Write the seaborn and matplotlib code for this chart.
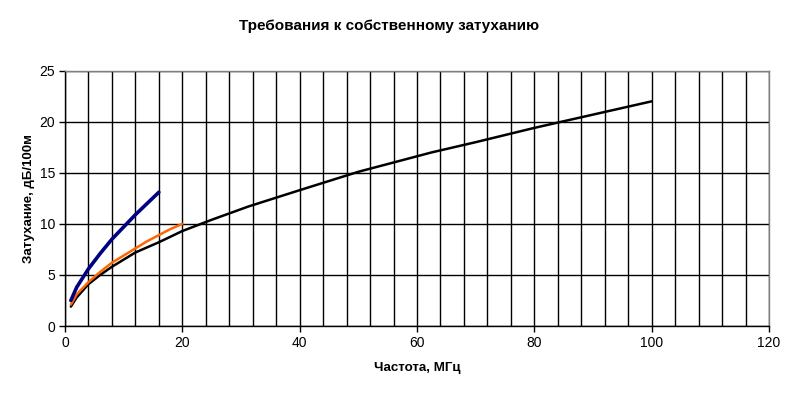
import numpy as np
import pandas as pd
import matplotlib
matplotlib.use("Agg")
import matplotlib.pyplot as plt
import seaborn as sns
from matplotlib.ticker import MultipleLocator

# Data (attenuation, dB/100m vs frequency, MHz)
freq_cat3 = [1, 2, 4, 6, 8, 10, 12, 14, 16]
att_cat3 = [2.5, 3.8, 5.6, 7.1, 8.5, 9.7, 10.9, 12.0, 13.1]

freq_cat4 = [1, 2, 4, 6, 8, 10, 12, 14, 16, 18, 20]
att_cat4 = [2.1, 3.1, 4.3, 5.3, 6.2, 6.9, 7.6, 8.3, 8.9, 9.5, 10.0]

freq_cat5 = [1, 2, 4, 6, 8, 10, 12, 16, 20, 25, 31.25, 40, 50, 62.5, 70, 80, 90, 100]
att_cat5 = [1.9, 2.8, 4.1, 5.0, 5.8, 6.5, 7.2, 8.2, 9.3, 10.4, 11.7, 13.3, 15.1, 17.0, 18.0, 19.4, 20.7, 22.0]

title = "Требования к собственному затуханию"
xlabel = "Частота, МГц"
ylabel = "Затухание, дБ/100м"

sns.set_theme(style="white")
plt.rcParams['font.family'] = ['Liberation Sans', 'DejaVu Sans']

fig = plt.figure(figsize=(7.96, 3.96), dpi=100)
ax = fig.add_axes([65/796, 70/396, (769-65)/796, (326-70.7)/396])

df5 = pd.DataFrame({"f": freq_cat5, "a": att_cat5})
df4 = pd.DataFrame({"f": freq_cat4, "a": att_cat4})
df3 = pd.DataFrame({"f": freq_cat3, "a": att_cat3})

sns.lineplot(data=df5, x="f", y="a", ax=ax, color="black", linewidth=1.8, zorder=3)
sns.lineplot(data=df4, x="f", y="a", ax=ax, color="#FF6600", linewidth=1.8, zorder=4)
sns.lineplot(data=df3, x="f", y="a", ax=ax, color="#000080", linewidth=2.6, zorder=5)

ax.set_xlim(0, 120)
ax.set_ylim(0, 25)
ax.xaxis.set_major_locator(MultipleLocator(20))
ax.xaxis.set_minor_locator(MultipleLocator(4))
ax.yaxis.set_major_locator(MultipleLocator(5))

ax.grid(False)
ax.grid(True, which="minor", axis="x", color="black", linewidth=1.0)
ax.grid(True, which="major", axis="x", color="black", linewidth=1.0)
ax.grid(True, which="major", axis="y", color="black", linewidth=1.0)
ax.set_axisbelow(True)

ax.tick_params(axis="both", which="major", direction="out", length=4, width=1,
               color="black", labelsize=10, labelcolor="black", pad=3,
               bottom=True, left=True)
ax.tick_params(axis="x", which="minor", length=0)

for s in ["left", "bottom"]:
    ax.spines[s].set_color("black")
    ax.spines[s].set_linewidth(1.0)
for s in ["top", "right"]:
    ax.spines[s].set_color("#808080")
    ax.spines[s].set_linewidth(1.0)

ax.set_xlabel(xlabel, fontsize=9.6, fontweight="bold", color="black", labelpad=9)
ax.set_ylabel(ylabel, fontsize=9.5, fontweight="bold", color="black", labelpad=3)
fig.text(389/796, 1 - 26/396, title, ha="center", va="center", fontsize=11,
         fontweight="bold", color="black")

fig.savefig("out.png", dpi=100)
